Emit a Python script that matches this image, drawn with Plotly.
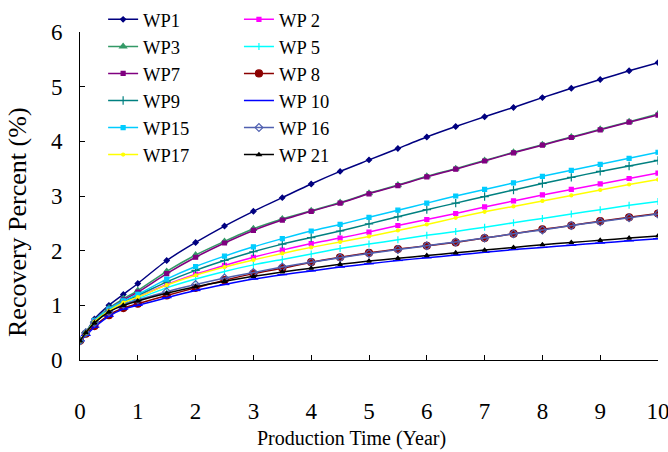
import plotly.graph_objects as go

# Production time (years) at which recovery was sampled
years = [0, 0.1, 0.25, 0.5, 0.75, 1, 1.5, 2, 2.5, 3, 3.5, 4, 4.5,
         5, 5.5, 6, 6.5, 7, 7.5, 8, 8.5, 9, 9.5, 10]

# Recovery percent (%) per well pad
wp1 = [0.35, 0.50, 0.75, 1.00, 1.20, 1.40, 1.82, 2.15, 2.45, 2.72, 2.97, 3.22,
       3.45, 3.66, 3.87, 4.08, 4.27, 4.45, 4.62, 4.80, 4.97, 5.13, 5.29, 5.44]
wp2 = [0.35, 0.50, 0.70, 0.90, 1.05, 1.15, 1.38, 1.57, 1.73, 1.88, 2.01, 2.13,
       2.23, 2.34, 2.46, 2.57, 2.68, 2.80, 2.91, 3.02, 3.12, 3.22, 3.32, 3.42]
wp3 = [0.35, 0.50, 0.72, 0.95, 1.12, 1.27, 1.62, 1.92, 2.17, 2.40, 2.58, 2.73,
       2.88, 3.05, 3.20, 3.36, 3.50, 3.65, 3.80, 3.94, 4.08, 4.22, 4.36, 4.50]
wp5 = [0.35, 0.50, 0.68, 0.88, 1.02, 1.12, 1.32, 1.48, 1.62, 1.74, 1.84, 1.94,
       2.04, 2.12, 2.20, 2.28, 2.35, 2.43, 2.51, 2.59, 2.67, 2.75, 2.83, 2.90]
wp7 = [0.35, 0.50, 0.71, 0.93, 1.10, 1.24, 1.58, 1.88, 2.14, 2.37, 2.56, 2.72,
       2.87, 3.04, 3.19, 3.35, 3.49, 3.64, 3.79, 3.93, 4.07, 4.21, 4.35, 4.48]
wp8 = [0.35, 0.48, 0.62, 0.82, 0.95, 1.03, 1.18, 1.32, 1.46, 1.58, 1.68, 1.79,
       1.88, 1.96, 2.03, 2.09, 2.15, 2.23, 2.31, 2.39, 2.46, 2.54, 2.61, 2.68]
wp9 = [0.35, 0.50, 0.70, 0.92, 1.07, 1.18, 1.43, 1.64, 1.82, 1.98, 2.12, 2.24,
       2.36, 2.49, 2.62, 2.75, 2.87, 2.99, 3.11, 3.23, 3.34, 3.45, 3.55, 3.65]
wp10 = [0.35, 0.45, 0.60, 0.80, 0.93, 1.00, 1.14, 1.27, 1.38, 1.48, 1.56, 1.63,
        1.70, 1.76, 1.82, 1.87, 1.92, 1.97, 2.02, 2.06, 2.10, 2.14, 2.18, 2.22]
wp15 = [0.35, 0.50, 0.72, 0.93, 1.08, 1.20, 1.48, 1.71, 1.90, 2.07, 2.22, 2.36,
        2.48, 2.61, 2.74, 2.87, 3.00, 3.12, 3.24, 3.36, 3.47, 3.58, 3.69, 3.80]
wp16 = [0.35, 0.50, 0.68, 0.88, 1.02, 1.10, 1.25, 1.38, 1.50, 1.60, 1.70, 1.79,
        1.87, 1.95, 2.02, 2.09, 2.16, 2.23, 2.31, 2.38, 2.46, 2.53, 2.60, 2.67]
wp17 = [0.35, 0.50, 0.70, 0.90, 1.05, 1.15, 1.37, 1.55, 1.70, 1.83, 1.95, 2.06,
        2.16, 2.26, 2.37, 2.48, 2.60, 2.71, 2.81, 2.91, 3.01, 3.11, 3.21, 3.30]
wp21 = [0.35, 0.50, 0.68, 0.88, 1.00, 1.08, 1.22, 1.34, 1.44, 1.53, 1.61, 1.68,
        1.75, 1.81, 1.86, 1.91, 1.96, 2.01, 2.06, 2.11, 2.15, 2.19, 2.23, 2.27]

x_ticks = [0, 1, 2, 3, 4, 5, 6, 7, 8, 9, 10]
y_ticks = [0, 1, 2, 3, 4, 5, 6]

SERIF = "Liberation Serif"

# name, values, colour, marker symbol, marker size, legend column
series = [
    ("WP1", wp1, "#000080", "diamond", 4, "legend"),
    ("WP 2", wp2, "#FF00FF", "square", 4, "legend2"),
    ("WP3", wp3, "#339966", "triangle-up", 6, "legend"),
    ("WP 5", wp5, "#00FFFF", "line-ns", 5, "legend2"),
    ("WP7", wp7, "#800080", "square", 4, "legend"),
    ("WP 8", wp8, "#8B0000", "circle", 7, "legend2"),
    ("WP9", wp9, "#008080", "cross-thin", 6, "legend"),
    ("WP 10", wp10, "#0000FF", "line-ew", 7, "legend2"),
    ("WP15", wp15, "#00CCFF", "square", 4, "legend"),
    ("WP 16", wp16, "#5060B0", "diamond-open", 6, "legend2"),
    ("WP17", wp17, "#FFFF00", "circle", 3, "legend"),
    ("WP 21", wp21, "#000000", "triangle-up", 4, "legend2"),
]

# legend entries are listed column by column
col1 = [s for s in series if s[5] == "legend"]
col2 = [s for s in series if s[5] == "legend2"]
rank = {s[0]: i for i, s in enumerate(col1)}
rank.update({s[0]: i for i, s in enumerate(col2)})

fig = go.Figure()
for name, vals, color, sym, size, leg in series:
    fig.add_trace(go.Scatter(
        x=years, y=vals, name=name, mode="lines+markers",
        line=dict(color=color, width=1.5, shape="spline", smoothing=0.6),
        marker=dict(symbol=sym, size=size, color=color,
                    line=dict(color=color, width=1.2)),
        legend=leg, legendrank=rank[name] + 1,
    ))

legend_common = dict(
    font=dict(family=SERIF, size=18.5, color="black"),
    bgcolor="rgba(0,0,0,0)", borderwidth=0, tracegroupgap=0,
    yanchor="top", xanchor="left", traceorder="normal",
)

fig.update_layout(
    width=668, height=452,
    margin=dict(l=80, r=10, t=32, b=92, autoexpand=False),
    paper_bgcolor="white", plot_bgcolor="white",
    font=dict(family=SERIF, color="black"),
    showlegend=True,
    legend=dict(x=0.04, y=1.095, **legend_common),
    legend2=dict(x=0.275, y=1.095, **legend_common),
    xaxis=dict(
        range=[0, 10], tickvals=x_ticks, ticks="inside", ticklen=5,
        tickcolor="black", showline=True, linecolor="black", linewidth=1,
        showgrid=False, zeroline=False, ticklabelstandoff=30,
        ticklabeloverflow="allow", automargin=False,
        tickfont=dict(family=SERIF, size=23, color="black"),
    ),
    yaxis=dict(
        range=[0, 6], tickvals=y_ticks, ticks="inside", ticklen=5,
        tickcolor="black", showline=True, linecolor="black", linewidth=1,
        showgrid=False, zeroline=False, ticklabelstandoff=12,
        automargin=False,
        tickfont=dict(family=SERIF, size=23, color="black"),
    ),
    annotations=[
        dict(text="Production Time (Year)", xref="paper", yref="paper",
             x=(351 - 80) / 578, y=(360 - 438) / 328, showarrow=False,
             xanchor="center", yanchor="middle",
             font=dict(family=SERIF, size=20, color="black")),
        dict(text="Recovery Percent (%)", xref="paper", yref="paper",
             x=(17 - 80) / 578, y=(360 - 222) / 328, showarrow=False,
             xanchor="center", yanchor="middle", textangle=-90,
             font=dict(family=SERIF, size=26, color="black")),
    ],
)

fig.write_html("out.html")
